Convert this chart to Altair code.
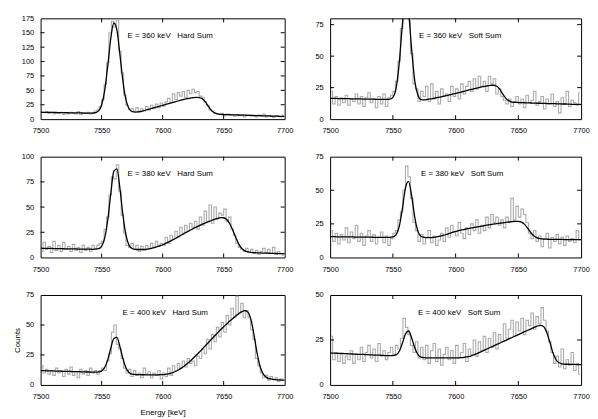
import altair as alt
import pandas as pd

# bin centres of the measured spectra (2 keV bins) and energies of the fit curves
BIN_E = [7501 + 2 * i for i in range(100)]
FIT_E = [7500 + 2.5 * i for i in range(81)]

HARD_360 = [12, 11, 13, 10, 12, 9, 11, 10, 12, 8,
            11, 9, 12, 10, 9, 13, 8, 11, 10, 12,
            9, 11, 14, 16, 22, 34, 60, 98, 150, 170,
            160, 172, 118, 80, 42, 24, 17, 18, 14, 20,
            12, 18, 14, 22, 16, 24, 18, 26, 20, 28,
            22, 30, 36, 28, 44, 34, 46, 40, 48, 38,
            50, 44, 52, 46, 48, 40, 38, 30, 24, 16,
            14, 10, 9, 8, 10, 6, 9, 7, 8, 5,
            7, 6, 8, 4, 6, 7, 5, 6, 4, 7,
            5, 9, 4, 6, 5, 3, 6, 5, 4, 7]
SOFT_360 = [22, 12, 18, 11, 17, 13, 19, 11, 16, 14,
            20, 12, 18, 10, 17, 21, 13, 16, 9, 18,
            12, 20, 10, 17, 19, 22, 30, 46, 72, 98,
            96, 86, 52, 28, 24, 14, 22, 18, 26, 14,
            28, 16, 22, 12, 24, 18, 20, 14, 26, 18,
            24, 16, 28, 20, 26, 30, 22, 32, 24, 34,
            26, 30, 22, 34, 28, 32, 20, 24, 18, 15,
            12, 16, 10, 14, 18, 12, 16, 9, 19, 13,
            15, 22, 11, 14, 18, 8, 16, 12, 20, 10,
            14, 5, 17, 12, 22, 10, 15, 13, 11, 21]
HARD_380 = [6, 15, 8, 11, 5, 16, 7, 12, 6, 15,
            8, 11, 6, 13, 7, 10, 5, 12, 7, 10,
            6, 12, 9, 12, 14, 16, 28, 40, 62, 80,
            78, 92, 66, 42, 24, 12, 10, 14, 8, 12,
            6, 11, 7, 12, 9, 14, 10, 16, 11, 14,
            12, 20, 14, 22, 18, 26, 20, 30, 24, 32,
            26, 34, 30, 36, 28, 40, 32, 46, 36, 52,
            34, 50, 38, 44, 42, 48, 36, 40, 28, 22,
            14, 10, 8, 6, 9, 5, 8, 4, 7, 3,
            6, 9, 5, 8, 4, 10, 3, 6, 4, 2]
SOFT_380 = [20, 12, 18, 10, 17, 13, 22, 11, 19, 14,
            24, 12, 18, 9, 16, 20, 12, 17, 10, 15,
            19, 11, 16, 9, 14, 18, 20, 28, 34, 50,
            68, 60, 44, 26, 20, 12, 17, 10, 15, 20,
            11, 16, 9, 13, 18, 12, 22, 15, 24, 19,
            16, 26, 18, 14, 22, 17, 25, 20, 28, 18,
            24, 20, 30, 22, 32, 26, 30, 24, 28, 22,
            30, 26, 44, 28, 38, 30, 36, 32, 26, 18,
            14, 20, 12, 16, 8, 14, 18, 7, 15, 12,
            17, 10, 15, 9, 16, 12, 14, 11, 20, 13]
HARD_400 = [16, 10, 13, 9, 12, 8, 14, 10, 12, 7,
            13, 9, 15, 8, 11, 6, 13, 9, 12, 8,
            14, 10, 12, 9, 12, 14, 12, 20, 26, 44,
            50, 34, 30, 22, 14, 10, 13, 7, 12, 8,
            10, 6, 14, 9, 11, 6, 10, 8, 12, 5,
            10, 7, 14, 8, 16, 12, 18, 14, 20, 15,
            22, 18, 20, 16, 24, 22, 30, 26, 38, 30,
            42, 36, 48, 40, 52, 44, 58, 50, 64, 56,
            74, 60, 68, 56, 62, 56, 46, 38, 22, 16,
            10, 6, 8, 4, 7, 5, 6, 3, 5, 4]
SOFT_400 = [27, 14, 18, 13, 17, 12, 16, 14, 19, 12,
            17, 14, 21, 13, 18, 22, 15, 20, 13, 23,
            16, 19, 14, 18, 21, 17, 22, 20, 26, 37,
            32, 28, 22, 18, 24, 15, 21, 14, 22, 12,
            19, 23, 13, 20, 11, 17, 21, 14, 19, 12,
            22, 15, 18, 23, 13, 20, 17, 25, 16, 24,
            19, 27, 18, 26, 21, 29, 20, 28, 24, 34,
            26, 31, 36, 27, 35, 30, 37, 28, 36, 33,
            40, 31, 38, 34, 43, 36, 30, 24, 18, 12,
            16, 10, 20, 9, 14, 11, 18, 8, 12, 6]

# ---- fitted curves (every 2.5 keV) ----
FIT_360_HARD = [12.0, 11.9, 11.8, 11.7, 11.6, 11.5, 11.4, 11.3, 11.2, 11.1,
                11.0, 10.9, 10.8, 10.7, 10.6, 10.5, 10.4, 10.3, 11.2,
                14.3, 24.6, 49.5, 92, 140, 167, 155, 112, 65, 33, 18, 13, 12.3,
                12.5, 13.5, 15, 16.5, 18, 19.5, 21, 22.5, 24, 25.5, 27, 28.5, 30,
                31.5, 33, 34.5, 35.5, 36.5, 37.3, 37.8, 37.5, 35.5, 30, 22, 15,
                11, 9, 8.3, 8.0,
                7.8, 7.7, 7.5, 7.3, 7.2, 7.0, 6.8, 6.7, 6.5, 6.3,
                6.2, 6.0, 5.8, 5.7, 5.5, 5.3, 5.2, 5.0, 4.9, 4.7]
FIT_360_SOFT = [16.5, 16.4, 16.4, 16.3, 16.3, 16.2, 16.2, 16.1, 16.1, 16.0,
                16.0, 15.9, 15.9, 15.8, 15.8, 15.7, 15.7, 15.6, 15.6,
                15.8, 17.3, 24.2, 43.6, 74, 95, 85, 55, 30, 19, 15.5,
                15.3, 15.6, 16.0, 16.5, 17.0, 17.5, 18.0, 18.6, 19.2, 19.8,
                20.4, 21.0, 21.6, 22.3, 23.0, 23.6, 24.2, 24.8, 25.4, 25.9,
                26.4, 26.8, 26.9,
                26.3, 24.0, 20.0, 16.5, 14.5, 13.6, 13.3, 13.2,
                13.1, 13.0, 12.9, 12.8, 12.7, 12.6, 12.6, 12.5, 12.4, 12.3,
                12.3, 12.2, 12.1, 12.0, 12.0, 11.9, 11.8, 11.8, 11.7, 11.6]
FIT_380_HARD = [9.2, 9.1, 9.0, 9.0, 8.9, 8.8, 8.8, 8.7, 8.6, 8.6,
                8.5, 8.5, 8.4, 8.3, 8.3, 8.2, 8.2, 8.1, 8.2,
                8.7, 11.1, 19.1, 36.9, 63.2, 85.6, 88.0, 68.6, 41.7, 21.8, 12.1, 8.9, 8.1,
                7.9, 7.9, 8.0, 8.3, 8.8, 9.6, 10.5, 11.5, 12.6, 14.0,
                15.5, 17.0, 18.6, 20.3, 22.0, 23.7, 25.4, 27.0, 28.6, 30.1,
                31.6, 33.0, 34.3, 35.5, 36.7, 37.8, 38.8, 39.5, 39.4,
                37.6, 33.5, 27.0, 19.5, 13.0, 8.8, 6.6, 5.6, 5.1, 4.8,
                4.6, 4.5, 4.4, 4.3, 4.2, 4.1, 4.0, 3.9, 3.8, 3.7]
FIT_380_SOFT = [15.5, 15.5, 15.4, 15.4, 15.4, 15.3, 15.3, 15.3, 15.2, 15.2,
                15.2, 15.1, 15.1, 15.1, 15.0, 15.0, 15.0, 15.0, 15.0, 15.0,
                15.3, 16.8, 22.7, 35.8, 51.6, 56.6, 45.7, 29.6, 19.4, 15.6,
                15.0, 14.8, 14.8, 15.0, 15.3, 15.8, 16.4, 17.1, 17.9, 18.7, 19.4,
                20.0, 20.5, 21.0, 21.5, 22.0, 22.4, 22.8, 23.2, 23.6, 24.0,
                24.4, 24.8, 25.2, 25.5, 25.8, 26.1, 26.4, 26.7, 26.9, 26.9,
                26.3, 24.6, 21.6, 18.4, 16.0, 14.6, 14.0, 13.7, 13.6, 13.5,
                13.5, 13.4, 13.4, 13.4, 13.3, 13.3, 13.3, 13.3, 13.2, 13.2]
FIT_400_HARD = [12.0, 11.9, 11.8, 11.8, 11.7, 11.6, 11.5, 11.4, 11.4, 11.3,
                11.2, 11.1, 11.1, 11.0, 10.9, 10.8, 10.8, 10.7, 10.6,
                10.8, 11.7, 14.5, 20.9, 30.6, 38.8, 39.6, 32.0, 21.7, 14.1, 10.4, 9.0, 8.7,
                8.6, 8.5, 8.5, 8.4, 8.4, 8.4, 8.4, 8.5, 8.6, 8.9,
                9.3, 10.0, 11.0, 12.3, 13.8, 15.6, 17.6, 19.8, 22.2, 24.7,
                27.3, 30.0, 32.7, 35.4, 38.1, 40.8, 43.4, 46.0, 48.5,
                50.9, 53.3, 55.5, 57.6, 59.5, 61.2, 62.0, 60.5, 54.0, 41.0,
                26.0, 15.0, 9.0, 6.3, 5.2, 4.7, 4.4, 4.2, 4.1, 4.0]
FIT_400_SOFT = [17.8, 17.7, 17.6, 17.6, 17.5, 17.4, 17.3, 17.2, 17.1, 17.0,
                17.0, 16.9, 16.8, 16.7, 16.6, 16.6, 16.5, 16.4, 16.3, 16.3, 16.3,
                16.7, 18.6, 23.0, 28.3, 30.0, 26.1, 20.5, 16.9, 15.5, 15.2,
                15.1, 15.1, 15.0, 15.0, 15.0, 15.0, 15.0, 15.0, 15.0, 15.0,
                15.1, 15.2, 15.4, 15.7, 16.2, 16.9, 17.6, 18.4, 19.2, 20.0,
                20.8, 21.6, 22.4, 23.2, 24.0, 24.8, 25.6, 26.4, 27.2, 28.0,
                28.8, 29.6, 30.4, 31.2, 32.0, 32.7, 33.1, 32.5, 29.5, 24.0,
                18.0, 14.0, 12.3, 11.7, 11.5, 11.5, 11.4, 11.4, 11.3, 11.3]

LABELS = ["E = 360 keV\u00a0\u00a0\u00a0Hard Sum", "E = 360 keV\u00a0\u00a0\u00a0Soft Sum",
          "E = 380 keV\u00a0\u00a0\u00a0Hard Sum", "E = 380 keV\u00a0\u00a0\u00a0Soft Sum",
          "E = 400 keV\u00a0\u00a0\u00a0Hard Sum", "E = 400 keV\u00a0\u00a0\u00a0Soft Sum"]
Y_MAX = [175, 80, 100, 75, 75, 50]
Y_TICKS = [[0, 25, 50, 75, 100, 125, 150, 175], [0, 25, 50, 75],
           [0, 25, 50, 75, 100], [0, 25, 50, 75],
           [0, 25, 50, 75], [0, 25, 50]]
X_TICKS = [7500, 7550, 7600, 7650, 7700]
DATA = [HARD_360, SOFT_360, HARD_380, SOFT_380, HARD_400, SOFT_400]
FITS = [FIT_360_HARD, FIT_360_SOFT, FIT_380_HARD, FIT_380_SOFT, FIT_400_HARD, FIT_400_SOFT]

for d in DATA:
    assert len(d) == len(BIN_E), len(d)
for f in FITS:
    assert len(f) == len(FIT_E), len(f)

FONT = "Liberation Sans"
TEXT_X = [88, 90, 88, 92, 83, 89]
WIDTHS = [247, 254]
HEIGHTS = [102, 102, 91]
TL = 4  # inward tick length


def panel(i):
    col = i % 2
    row = i // 2
    w = WIDTHS[col]
    h = HEIGHTS[row]
    is_lb = (col == 0 and row == 2)
    xscale = alt.Scale(domain=[7500, 7700], nice=False, zero=False)
    yscale = alt.Scale(domain=[0, Y_MAX[i]], nice=False, zero=False)
    xaxis = alt.Axis(values=X_TICKS, ticks=False, domain=False, grid=False,
                     labelFlush=False, labelPadding=8, labelFontSize=7.5,
                     labelFont=FONT, labelColor="black", format="d",
                     title=("Energy [keV]" if is_lb else None),
                     titleFont=FONT, titleFontSize=8, titleFontWeight="normal",
                     titleColor="black", titlePadding=8)
    yaxis = alt.Axis(values=Y_TICKS[i], ticks=False, domain=False, grid=False,
                     labelPadding=7, labelFontSize=7.5, labelFont=FONT,
                     labelColor="black", format="d",
                     title=("Counts" if is_lb else None),
                     titleFont=FONT, titleFontSize=8, titleFontWeight="normal",
                     titleColor="black", titlePadding=4,
                     minExtent=15, maxExtent=15)
    X = alt.X("E:Q", scale=xscale, axis=xaxis)
    Y = alt.Y("C:Q", scale=yscale, axis=yaxis)

    df_d = pd.DataFrame({"E": BIN_E, "C": DATA[i]})
    df_f = pd.DataFrame({"E": FIT_E, "C": FITS[i]})
    df_xt = pd.DataFrame({"E": X_TICKS[1:-1]})
    yt = [v for v in Y_TICKS[i] if 0 < v < Y_MAX[i]]
    df_yt = pd.DataFrame({"C": yt})
    df_t = pd.DataFrame({"t": [LABELS[i]]})

    data_line = alt.Chart(df_d).mark_line(
        color="#ababab", strokeWidth=1.1, interpolate="step", clip=True
    ).encode(x=X, y=Y)
    fit_line = alt.Chart(df_f).mark_line(
        color="black", strokeWidth=1.3, interpolate="monotone", clip=True
    ).encode(x=X, y=Y)
    xt_top = alt.Chart(df_xt).mark_rule(color="black", strokeWidth=1).encode(
        x=X, y=alt.value(0), y2=alt.value(TL))
    xt_bot = alt.Chart(df_xt).mark_rule(color="black", strokeWidth=1).encode(
        x=X, y=alt.value(h), y2=alt.value(h - TL))
    yt_l = alt.Chart(df_yt).mark_rule(color="black", strokeWidth=1).encode(
        y=Y, x=alt.value(0), x2=alt.value(TL))
    yt_r = alt.Chart(df_yt).mark_rule(color="black", strokeWidth=1).encode(
        y=Y, x=alt.value(w), x2=alt.value(w - TL))
    txt = alt.Chart(df_t).mark_text(
        align="left", baseline="middle", font=FONT, fontSize=8, color="black"
    ).encode(x=alt.value(TEXT_X[i]), y=alt.value(18), text="t:N")

    return alt.layer(data_line, fit_line, xt_top, xt_bot, yt_l, yt_r, txt).properties(
        width=w, height=h)


chart = alt.concat(
    *[panel(i) for i in range(6)],
    columns=2,
    spacing={"row": 38, "column": 46},
    bounds="flush",
    align="each",
).properties(
    padding={"left": 5, "top": 3, "right": 0, "bottom": 0},
    background="white",
).configure_view(
    stroke="black", strokeWidth=1
)

chart.save("out.html", embed_options={"renderer": "svg", "actions": False})
